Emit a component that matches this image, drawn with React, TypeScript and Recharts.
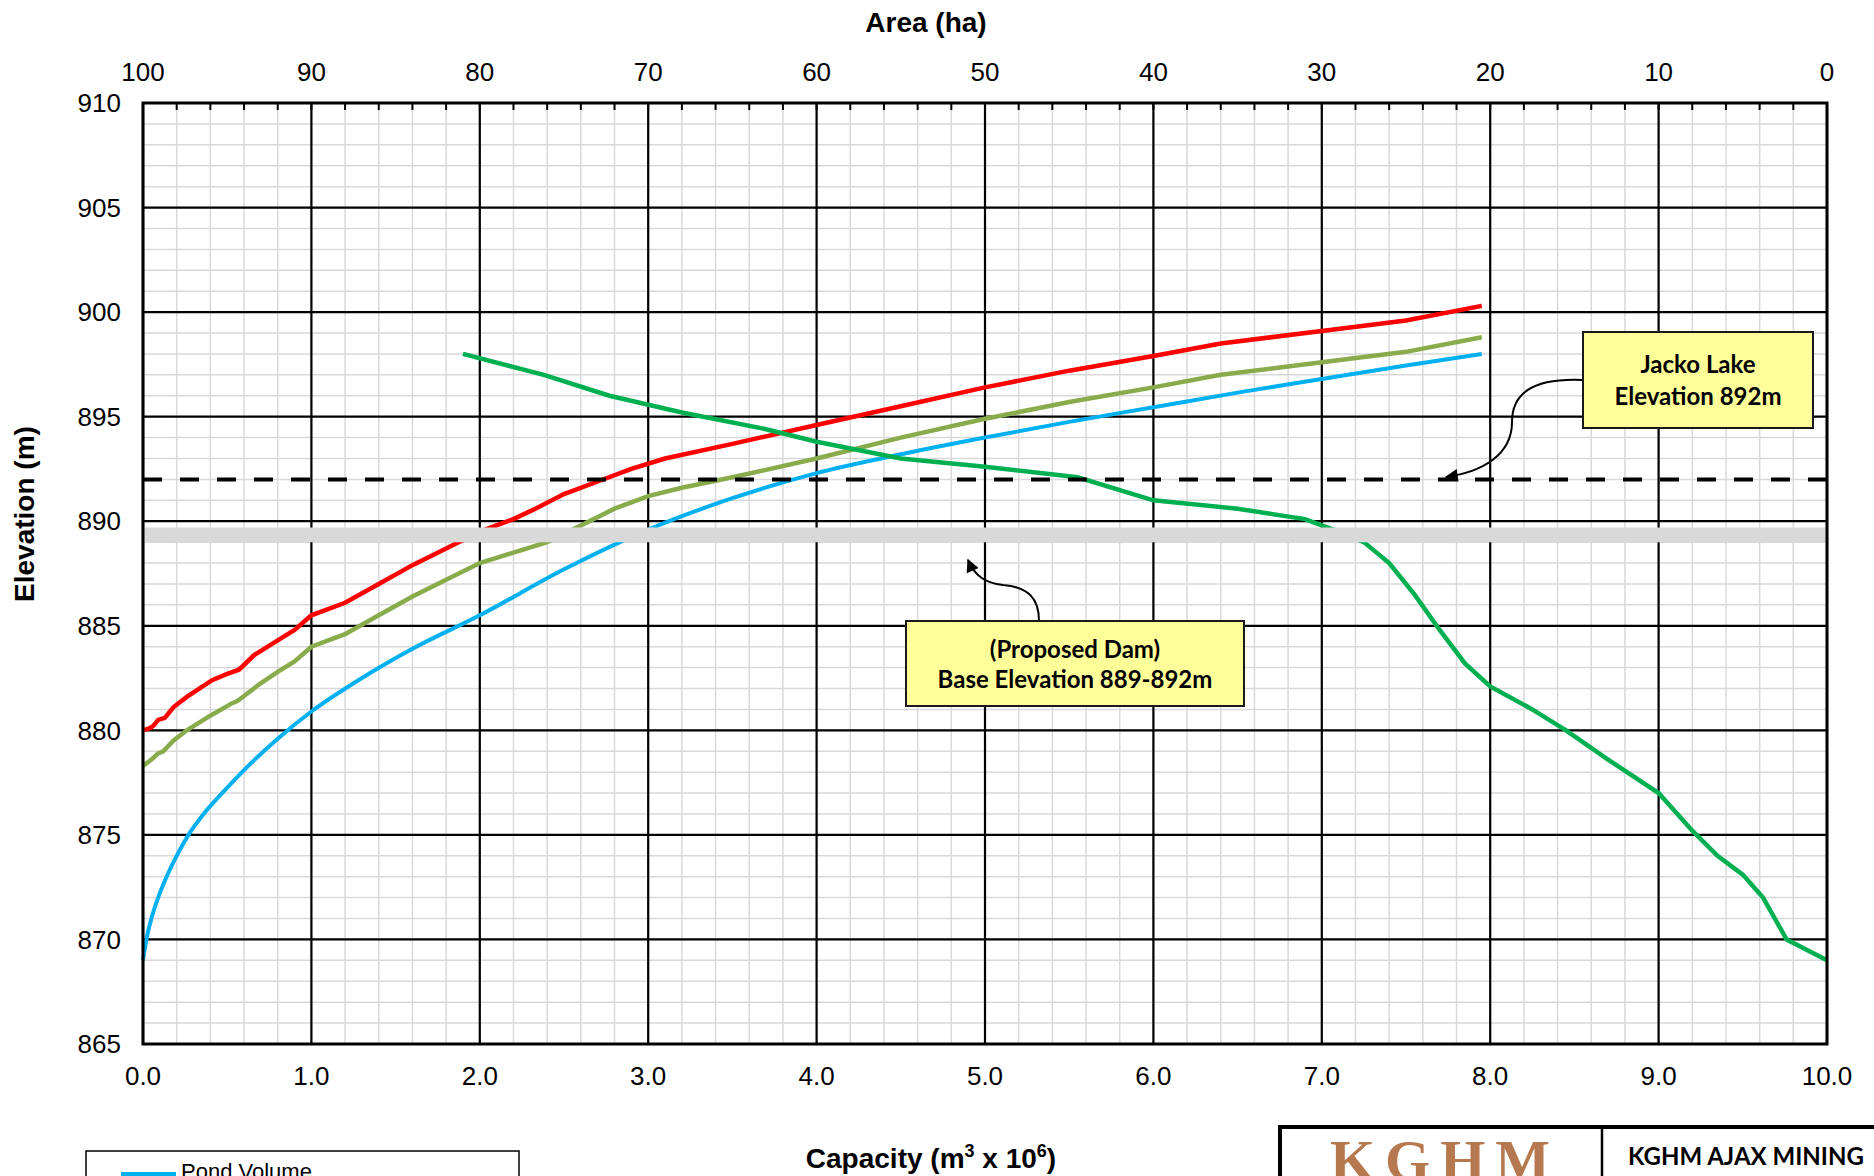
import React from "react";
import { CartesianGrid, Line, LineChart, ReferenceArea, ReferenceLine, XAxis, YAxis } from "recharts";

// capacity (m3 x 10^6) vs elevation (m)
const pondCap = [0, 0.02, 0.05, 0.09, 0.14, 0.2, 0.27, 0.36, 0.47, 0.6, 0.8, 1.0, 1.3, 1.6, 2.0, 2.5, 3.0, 3.5, 4.0, 4.5, 5.0, 5.5, 6.0, 6.5, 7.0, 7.5, 7.95];
const pondElev = [869.0, 870.0, 871.0, 872.0, 873.0, 874.0, 875.0, 876.0, 877.0, 878.1, 879.6, 880.9, 882.5, 883.9, 885.5, 887.7, 889.6, 891.1, 892.3, 893.2, 894.0, 894.75, 895.45, 896.15, 896.8, 897.45, 898.0];

const redCap = [0, 0.04, 0.06, 0.09, 0.13, 0.18, 0.26, 0.41, 0.5, 0.57, 0.66, 0.8, 0.9, 1.0, 1.2, 1.4, 1.6, 1.8, 2.0, 2.2, 2.33, 2.5, 2.7, 2.9, 3.1, 3.5, 4.0, 4.5, 5.0, 5.5, 6.0, 6.4, 7.0, 7.5, 7.95];
const redElev = [880.0, 880.1, 880.2, 880.5, 880.6, 881.1, 881.6, 882.4, 882.7, 882.9, 883.6, 884.3, 884.8, 885.5, 886.1, 887.0, 887.9, 888.7, 889.5, 890.1, 890.6, 891.3, 891.9, 892.5, 893.0, 893.7, 894.6, 895.5, 896.4, 897.2, 897.9, 898.5, 899.1, 899.6, 900.3];

const oliveCap = [0, 0.05, 0.09, 0.12, 0.18, 0.26, 0.4, 0.53, 0.56, 0.61, 0.69, 0.8, 0.9, 1.0, 1.2, 1.4, 1.6, 1.8, 2.0, 2.2, 2.4, 2.6, 2.8, 3.0, 3.2, 3.5, 4.0, 4.5, 5.0, 5.5, 6.0, 6.4, 7.0, 7.5, 7.95];
const oliveElev = [878.3, 878.6, 878.9, 879.0, 879.5, 880.0, 880.7, 881.3, 881.4, 881.7, 882.2, 882.8, 883.3, 884.0, 884.6, 885.5, 886.4, 887.2, 888.0, 888.5, 889.0, 889.8, 890.6, 891.2, 891.6, 892.1, 893.0, 894.0, 894.9, 895.7, 896.4, 897.0, 897.6, 898.1, 898.8];

// area (ha) vs elevation (m), top axis
const areaHa = [81, 76.2, 72.3, 68, 63, 60, 55, 50, 44.5, 40, 35, 31, 29, 27.5, 26, 24.5, 23, 21.5, 20, 17.5, 15.5, 13, 10, 8, 6.5, 5, 3.8, 2.4, 0];
const areaElev = [898.0, 897.0, 896.0, 895.2, 894.4, 893.8, 893.0, 892.6, 892.1, 891.0, 890.6, 890.1, 889.5, 889.0, 888.0, 886.5, 884.8, 883.2, 882.1, 881.0, 880.0, 878.6, 877.0, 875.2, 874.0, 873.1, 872.0, 870.0, 869.0];

const capTicks = [0, 1, 2, 3, 4, 5, 6, 7, 8, 9, 10];
const elevTicks = [865, 870, 875, 880, 885, 890, 895, 900, 905, 910];
const capMinorTicks = Array.from({ length: 51 }, (_, i) => i * 0.2);
const elevMinorTicks = Array.from({ length: 46 }, (_, i) => 865 + i);
const areaTicks = Array.from({ length: 51 }, (_, i) => i * 2);

const pondData = pondCap.map((cap, i) => ({ cap, elev: pondElev[i] }));
const redData = redCap.map((cap, i) => ({ cap, elev: redElev[i] }));
const oliveData = oliveCap.map((cap, i) => ({ cap, elev: oliveElev[i] }));
const areaData = areaHa.map((area, i) => ({ area, elev: areaElev[i] }));

const arial = "'Liberation Sans', Arial, sans-serif";
const calibri = "Lato, 'Open Sans', sans-serif";

const AreaTick = (props: any) => {
  const { x, y, payload } = props;
  const v = Math.round(payload.value);
  return (
    <g>
      <line x1={x} x2={x} y1={y} y2={y + 7} stroke="#000" strokeWidth={2} />
      {v % 10 === 0 && (
        <text x={x} y={y - 22} textAnchor="middle" fontSize={26} fontFamily={arial} fill="#000">
          {v}
        </text>
      )}
    </g>
  );
};

export default function App() {
  return (
    <div style={{ position: "absolute", left: 0, top: 0, width: 1874, height: 1176, overflow: "hidden", background: "#fff" }}>
      <LineChart width={1874} height={1176} margin={{ top: 0, right: 47, bottom: 0, left: 0 }}>
        <XAxis
          xAxisId="area"
          orientation="top"
          type="number"
          dataKey="area"
          domain={[0, 100]}
          reversed
          ticks={areaTicks}
          interval={0}
          height={103}
          tickSize={0}
          tickMargin={0}
          axisLine={false}
          tickLine={false}
          tick={<AreaTick />}
        />
        <XAxis
          xAxisId="cap"
          type="number"
          dataKey="cap"
          domain={[0, 10]}
          ticks={capTicks}
          interval={0}
          height={132}
          tickSize={0}
          tickMargin={23}
          axisLine={false}
          tickLine={false}
          tickFormatter={(v: number) => v.toFixed(1)}
          tick={{ fill: "#000", fontSize: 26, fontFamily: arial }}
        />
        <YAxis
          yAxisId="elev"
          type="number"
          domain={[865, 910]}
          ticks={elevTicks}
          interval={0}
          width={143}
          tickSize={0}
          tickMargin={22}
          axisLine={false}
          tickLine={false}
          tick={{ fill: "#000", fontSize: 26, fontFamily: arial }}
        />
        {capMinorTicks.map((v) => (
          <ReferenceLine key={`mx${v}`} xAxisId="cap" yAxisId="elev" x={v} stroke="#d9d9d9" strokeWidth={1.5} zIndex={-120} />
        ))}
        {elevMinorTicks.map((v) => (
          <ReferenceLine key={`my${v}`} xAxisId="cap" yAxisId="elev" y={v} stroke="#d9d9d9" strokeWidth={1.5} zIndex={-120} />
        ))}
        <CartesianGrid xAxisId="cap" yAxisId="elev" stroke="#000" strokeWidth={2.2} />
        <Line xAxisId="cap" yAxisId="elev" data={pondData} dataKey="elev" name="Pond Volume" type="monotone" stroke="#00b0f0" strokeWidth={4} dot={false} activeDot={false} isAnimationActive={false} />
        <Line xAxisId="cap" yAxisId="elev" data={redData} dataKey="elev" type="linear" stroke="#ff0000" strokeWidth={4.5} dot={false} activeDot={false} isAnimationActive={false} />
        <Line xAxisId="cap" yAxisId="elev" data={oliveData} dataKey="elev" type="linear" stroke="#8aab4c" strokeWidth={4.5} dot={false} activeDot={false} isAnimationActive={false} />
        <Line xAxisId="area" yAxisId="elev" data={areaData} dataKey="elev" type="linear" stroke="#00b050" strokeWidth={4.5} dot={false} activeDot={false} isAnimationActive={false} />
        <ReferenceLine xAxisId="cap" yAxisId="elev" y={892} stroke="#000" strokeWidth={4} strokeDasharray="19 18" zIndex={600} />
        <ReferenceArea xAxisId="cap" yAxisId="elev" y1={889} y2={889.7} fill="#d9d9d9" fillOpacity={1} stroke="none" zIndex={650} />
      </LineChart>

      <svg width={1874} height={1176} style={{ position: "absolute", left: 0, top: 0, pointerEvents: "none" }}>
        <defs>
          <marker id="arrowHeadBig" viewBox="0 0 10 10" refX="9" refY="5" markerWidth="16" markerHeight="13" markerUnits="userSpaceOnUse" orient="auto">
            <path d="M0,0 L10,5 L0,10 z" fill="#000" />
          </marker>
        </defs>

        <rect x={143} y={103} width={1684} height={941} fill="none" stroke="#000" strokeWidth={3} />

        {/* axis titles */}
        <text x={926} y={32} textAnchor="middle" fontSize={28} fontWeight="bold" fontFamily={arial}>Area (ha)</text>
        <text x={931} y={1168} textAnchor="middle" fontSize={28} fontWeight="bold" fontFamily={arial}>
          Capacity (m<tspan fontSize={18} dy={-11}>3</tspan><tspan dy={11}> x 10</tspan><tspan fontSize={18} dy={-11}>6</tspan><tspan dy={11}>)</tspan>
        </text>
        <text x={34} y={514} transform="rotate(-90 34 514)" textAnchor="middle" fontSize={28} fontWeight="bold" fontFamily={arial}>Elevation (m)</text>

        {/* Jacko Lake callout */}
        <path d="M1582,380 C1530,378 1512,395 1512,422 C1512,455 1482,472 1446,477" fill="none" stroke="#000" strokeWidth={2} markerEnd="url(#arrowHeadBig)" />
        <rect x={1583} y={332} width={230} height={96} fill="#ffff99" stroke="#1a1a1a" strokeWidth={2} />
        <text x={1698} y={373} textAnchor="middle" fontSize={24} fontWeight="bold" fontFamily={calibri}>Jacko Lake</text>
        <text x={1698} y={405} textAnchor="middle" fontSize={24} fontWeight="bold" fontFamily={calibri}>Elevation 892m</text>

        {/* Proposed dam callout */}
        <path d="M1039,621 C1039,598 1028,587 1003,585 C985,583 975,576 968,560" fill="none" stroke="#000" strokeWidth={2} markerEnd="url(#arrowHeadBig)" />
        <rect x={906} y={621} width={338} height={85} fill="#ffff99" stroke="#1a1a1a" strokeWidth={2} />
        <text x={1075} y={658} textAnchor="middle" fontSize={24} fontWeight="bold" fontFamily={calibri}>(Proposed Dam)</text>
        <text x={1075} y={688} textAnchor="middle" fontSize={24} fontWeight="bold" fontFamily={calibri}>Base Elevation 889-892m</text>

        {/* legend */}
        <rect x={86} y={1151} width={433} height={120} fill="#fff" stroke="#000" strokeWidth={1.5} />
        <line x1={121} x2={176} y1={1174} y2={1174} stroke="#00b0f0" strokeWidth={4} />
        <text x={181} y={1179} fontSize={22} fontFamily={arial}>Pond Volume</text>

        {/* title block */}
        <rect x={1280} y={1127} width={700} height={120} fill="#fff" stroke="#000" strokeWidth={4} />
        <line x1={1602} x2={1602} y1={1127} y2={1176} stroke="#000" strokeWidth={2.5} />
        <text x={1330} y={1180} fontSize={58} fontWeight="bold" fontFamily="'Liberation Serif', 'DejaVu Serif', serif" fill="#b5784f" letterSpacing={10}>KGHM</text>
        <text x={1628} y={1165} fontSize={24} fontWeight="bold" fontFamily={calibri}>KGHM AJAX MINING</text>
      </svg>
    </div>
  );
}
